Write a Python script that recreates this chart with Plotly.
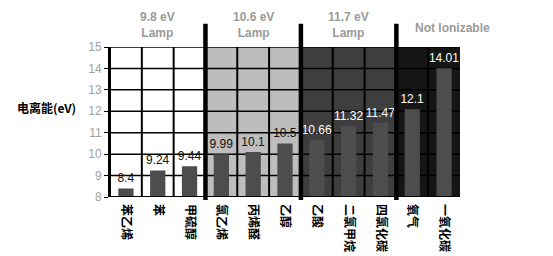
import plotly.graph_objects as go

categories = ["苯乙烯", "苯", "甲硫醇", "氯乙烯", "丙烯醛", "乙醇", "乙酸", "二氯甲烷", "四氯化碳", "氧气", "一氧化碳"]
values = [8.4, 9.24, 9.44, 9.99, 10.1, 10.5, 10.66, 11.32, 11.47, 12.1, 14.01]
value_labels = ["8.4", "9.24", "9.44", "9.99", "10.1", "10.5", "10.66", "11.32", "11.47", "12.1", "14.01"]
groups = [("9.8 eV<br>Lamp", 0, 2), ("10.6 eV<br>Lamp", 3, 5), ("11.7 eV<br>Lamp", 6, 8), ("Not Ionizable", 9, 10)]
group_colors = ["#ffffff", "#bdbdbd", "#3e3e3e", "#151515"]
label_colors = ["#111111"] * 6 + ["#ffffff"] * 5
y_ticks = [8, 9, 10, 11, 12, 13, 14, 15]

x = list(range(len(categories)))
fig = go.Figure()
fig.add_trace(go.Bar(
    x=x, y=values, base=0, width=0.48, marker=dict(color="#4d4d4d", line=dict(width=0)),
    text=value_labels, textposition="outside", cliponaxis=False, constraintext="none",
    textfont=dict(family="Liberation Sans, Arial", size=12, color=label_colors),
))

shapes = []
for (name, a, b), col in zip(groups, group_colors):
    shapes.append(dict(type="rect", xref="x", yref="y", x0=a - 0.5, x1=b + 0.5, y0=8, y1=15,
                       fillcolor=col, line=dict(width=0), layer="below"))
for yv in y_ticks[1:]:
    shapes.append(dict(type="line", xref="x", yref="y", x0=-0.5, x1=10.5, y0=yv, y1=yv,
                       line=dict(color="black", width=1.5), layer="below"))
for i in range(len(categories) + 1):
    xv = i - 0.5
    if i in (3, 6, 9):
        shapes.append(dict(type="line", xref="x", yref="paper", x0=xv, x1=xv, y0=-0.02, y1=1.155,
                           line=dict(color="black", width=4.5), layer="above"))
    elif i < len(categories):
        shapes.append(dict(type="line", xref="x", yref="y", x0=xv, x1=xv, y0=8, y1=15,
                           line=dict(color="black", width=2), layer="below"))
shapes.append(dict(type="line", xref="x", yref="y", x0=-0.5, x1=10.5, y0=8, y1=8,
                   line=dict(color="black", width=2), layer="above"))

annotations = []
for (name, a, b) in groups:
    one_line = "<br>" not in name
    annotations.append(dict(x=(a + b) / 2 + (0.75 if one_line else 0), xref="x",
                            y=1.125 if one_line else 1.145, yref="paper",
                            text=name, showarrow=False, yanchor="middle",
                            font=dict(family="Liberation Sans, Arial", size=12, color="#9a9a9a", weight="bold")))
annotations.append(dict(x=-0.091, xref="paper", y=0.6, yref="paper", xanchor="right", text="电离能(eV)",
                        showarrow=False, font=dict(family="Noto Sans CJK SC", size=12, color="black", weight="bold")))

fig.update_layout(
    width=553, height=256, margin=dict(l=110, r=93, t=47, b=59),
    paper_bgcolor="white", plot_bgcolor="white", showlegend=False,
    shapes=shapes, annotations=annotations,
    xaxis=dict(range=[-0.5, 10.5], tickvals=x, ticktext=categories, tickangle=90, showgrid=False,
               zeroline=False, ticks="", ticklabelstandoff=6, automargin=False,
               tickfont=dict(family="Noto Sans CJK SC", size=12, color="black", weight="bold")),
    yaxis=dict(range=[8, 15], tickvals=y_ticks, showgrid=False, zeroline=False, automargin=False,
               showline=True, linecolor="black", linewidth=2, ticks="outside", ticklen=4, tickcolor="black",
               tickfont=dict(family="Liberation Sans, Arial", size=12, color="#a0a0a0")),
)
fig.write_html("out.html")
